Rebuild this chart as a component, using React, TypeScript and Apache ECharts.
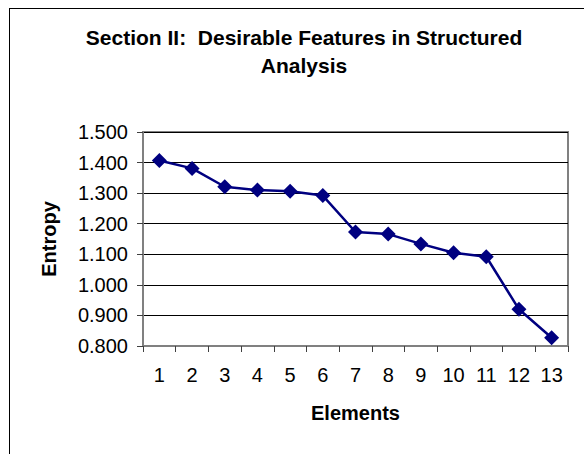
import React, { useEffect, useRef } from "react";
import * as echarts from "echarts";

const categories = ["1", "2", "3", "4", "5", "6", "7", "8", "9", "10", "11", "12", "13"];
const entropyValues = [1.407, 1.381, 1.321, 1.31, 1.306, 1.292, 1.173, 1.166, 1.134, 1.105, 1.092, 0.92, 0.827];
const titleLines = ["Section II:  Desirable Features in Structured", "Analysis"];
const yAxisName = "Entropy";
const xAxisName = "Elements";

const FONT = "'Liberation Sans', Arial, sans-serif";

export default function App() {
  const ref = useRef<HTMLDivElement>(null);
  useEffect(() => {
    if (!ref.current) return;
    const chart = echarts.init(ref.current, null, { renderer: "svg" });
    chart.setOption({
      animation: false,
      backgroundColor: "#ffffff",
      title: {
        text: titleLines.join("\n"),
        left: 299,
        top: 18,
        textAlign: "center",
        textStyle: {
          fontFamily: FONT,
          fontSize: 21,
          fontWeight: "bold",
          color: "#000000",
          lineHeight: 28,
        },
      },
      grid: {
        left: 143,
        top: 132,
        width: 425,
        height: 214,
        show: true,
        borderColor: "#808080",
        borderWidth: 2,
        backgroundColor: "#ffffff",
        containLabel: false,
      },
      xAxis: {
        type: "category",
        data: categories,
        boundaryGap: true,
        name: xAxisName,
        nameLocation: "middle",
        nameGap: 57,
        nameTextStyle: { fontFamily: FONT, fontSize: 20, fontWeight: "bold", color: "#000" },
        axisLine: { show: true, lineStyle: { color: "#808080", width: 2 } },
        axisTick: { show: true, inside: false, length: 6, alignWithLabel: false, lineStyle: { color: "#404040", width: 1 } },
        axisLabel: { margin: 19, fontFamily: FONT, fontSize: 20, color: "#000", interval: 0 },
        splitLine: { show: false },
      },
      yAxis: {
        type: "value",
        min: 0.8,
        max: 1.5,
        interval: 0.1,
        name: yAxisName,
        nameLocation: "middle",
        nameRotate: 90,
        nameGap: 84,
        nameTextStyle: { fontFamily: FONT, fontSize: 20, fontWeight: "bold", color: "#000" },
        axisLine: { show: true, lineStyle: { color: "#808080", width: 2 } },
        axisTick: { show: true, inside: false, length: 6, lineStyle: { color: "#404040", width: 1 } },
        axisLabel: {
          margin: 15,
          fontFamily: FONT,
          fontSize: 20,
          color: "#000",
          formatter: (v: number) => v.toFixed(3),
        },
        splitLine: { show: true, lineStyle: { color: "#000000", width: 1 } },
      },
      graphic: [
        { type: "line", shape: { x1: 9.5, y1: 8, x2: 9.5, y2: 454 }, style: { stroke: "#000", lineWidth: 1 } },
        { type: "line", shape: { x1: 9, y1: 8.5, x2: 584, y2: 8.5 }, style: { stroke: "#000", lineWidth: 1 } },
      ],
      series: [
        {
          type: "line",
          data: entropyValues,
          symbol: "diamond",
          symbolSize: 15,
          itemStyle: { color: "#000080" },
          lineStyle: { color: "#000080", width: 2.5 },
        },
      ],
    });
    return () => chart.dispose();
  }, []);
  return (
    <div
      ref={ref}
      style={{ position: "fixed", left: 0, top: 0, width: 584, height: 454, background: "#fff" }}
    />
  );
}
